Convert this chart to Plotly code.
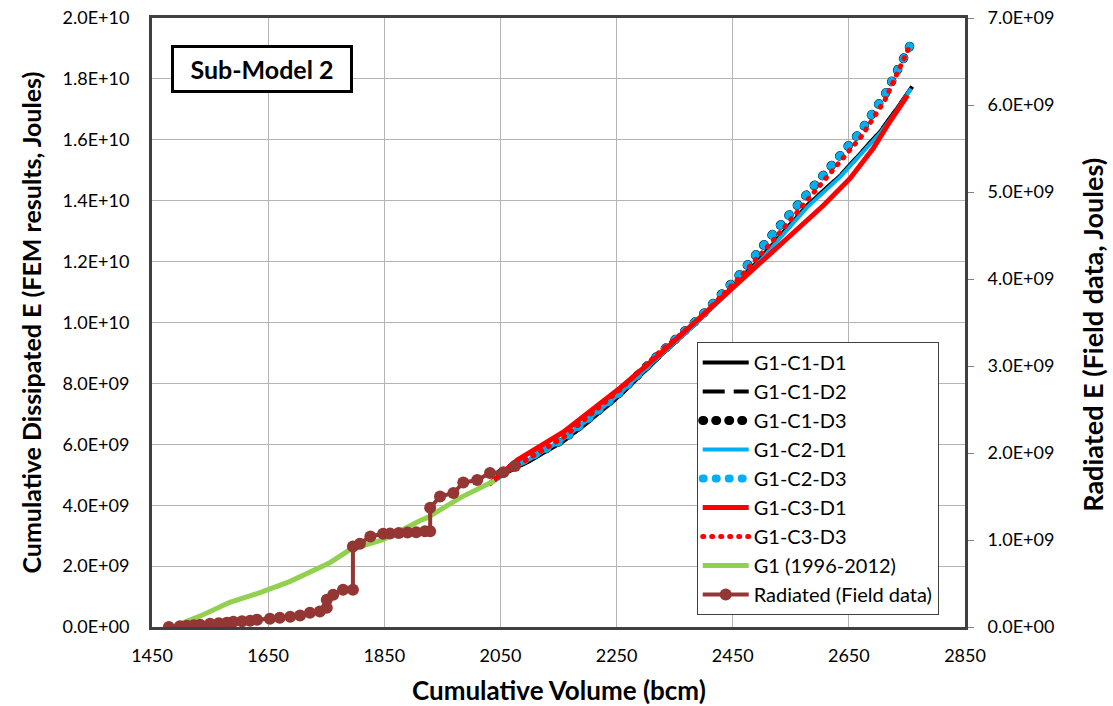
import plotly.graph_objects as go

# ---------------- data ----------------
# G1-C1-D1 / G1-C1-D2 (black)
c1_d1_x = [2040, 2058, 2100, 2158, 2200, 2256, 2325, 2382, 2451, 2497, 2527, 2578, 2635, 2670, 2704, 2733, 2759]
c1_d1_y = [4.82e9, 5.05e9, 5.45e9, 6.10e9, 6.72e9, 7.61e9, 8.90e9, 9.89e9, 11.20e9, 12.09e9, 12.75e9, 13.84e9, 14.82e9, 15.55e9, 16.27e9, 17.03e9, 17.75e9]
c1_d2_x = [2040, 2058, 2100, 2158, 2200, 2256, 2325, 2382, 2451, 2497, 2527, 2578, 2635, 2670, 2704, 2733, 2759]
c1_d2_y = [4.82e9, 5.05e9, 5.45e9, 6.10e9, 6.72e9, 7.61e9, 8.90e9, 9.89e9, 11.20e9, 12.09e9, 12.75e9, 13.84e9, 14.82e9, 15.55e9, 16.27e9, 17.03e9, 17.75e9]
# D3 (dotted) curves
c1_d3_x = [2050, 2158, 2256, 2325, 2394, 2428, 2463, 2515, 2570, 2618, 2670, 2713, 2761]
c1_d3_y = [5.05e9, 6.15e9, 7.70e9, 9.00e9, 10.18e9, 10.87e9, 11.60e9, 12.82e9, 14.05e9, 15.12e9, 16.27e9, 17.52e9, 19.30e9]
# G1-C2-D1 (blue)
c2_d1_x = [2040, 2058, 2100, 2158, 2200, 2256, 2325, 2382, 2451, 2497, 2527, 2578, 2635, 2670, 2704, 2733, 2757]
c2_d1_y = [4.80e9, 5.07e9, 5.50e9, 6.17e9, 6.80e9, 7.68e9, 8.92e9, 9.88e9, 11.15e9, 12.02e9, 12.68e9, 13.78e9, 14.78e9, 15.50e9, 16.22e9, 16.98e9, 17.68e9]
c2_d3_x = [2050, 2158, 2256, 2325, 2394, 2428, 2463, 2515, 2570, 2618, 2670, 2713, 2761]
c2_d3_y = [5.05e9, 6.15e9, 7.70e9, 9.00e9, 10.18e9, 10.87e9, 11.60e9, 12.82e9, 14.05e9, 15.12e9, 16.27e9, 17.52e9, 19.30e9]
# G1-C3 (red)
c3_d1_x = [2030, 2079, 2158, 2256, 2325, 2382, 2451, 2544, 2606, 2652, 2692, 2721, 2751]
c3_d1_y = [4.68e9, 5.48e9, 6.40e9, 7.85e9, 8.97e9, 9.95e9, 11.14e9, 12.75e9, 13.84e9, 14.73e9, 15.72e9, 16.61e9, 17.46e9]
c3_d3_x = [2040, 2158, 2256, 2325, 2394, 2428, 2463, 2520, 2575, 2622, 2672, 2712, 2752]
c3_d3_y = [4.85e9, 6.22e9, 7.80e9, 9.05e9, 10.15e9, 10.80e9, 11.50e9, 12.70e9, 13.92e9, 14.98e9, 16.12e9, 17.30e9, 18.97e9]
# G1 (1996-2012) (green)
g1_x = [1490, 1538, 1584, 1636, 1688, 1757, 1791, 1848, 1912, 1924, 1981, 2015, 2040]
g1_y = [0.04e9, 0.40e9, 0.81e9, 1.13e9, 1.50e9, 2.12e9, 2.54e9, 2.87e9, 3.50e9, 3.59e9, 4.25e9, 4.59e9, 4.80e9]
# Radiated (Field data) - right axis
rad_x = [1479, 1498, 1510, 1522, 1533, 1550, 1565, 1579, 1590, 1605, 1619, 1631, 1653, 1670, 1688, 1705,
         1722, 1739, 1751, 1751, 1762, 1779, 1796, 1796, 1808, 1826, 1848, 1860, 1875, 1890, 1905, 1920,
         1929, 1929, 1946, 1969, 1986, 2010, 2032, 2055, 2075]
rad_y = [0.0, 0.008e9, 0.015e9, 0.020e9, 0.026e9, 0.037e9, 0.043e9, 0.049e9, 0.061e9, 0.066e9, 0.072e9,
         0.084e9, 0.095e9, 0.107e9, 0.118e9, 0.133e9, 0.164e9, 0.179e9, 0.222e9, 0.314e9, 0.371e9, 0.429e9,
         0.429e9, 0.926e9, 0.957e9, 1.041e9, 1.072e9, 1.075e9, 1.08e9, 1.085e9, 1.09e9, 1.10e9, 1.10e9,
         1.37e9, 1.50e9, 1.54e9, 1.66e9, 1.69e9, 1.77e9, 1.78e9, 1.85e9]

x_ticks = [1450, 1650, 1850, 2050, 2250, 2450, 2650, 2850]
y_ticks = [0, 2e9, 4e9, 6e9, 8e9, 10e9, 12e9, 14e9, 16e9, 18e9, 20e9]
y_labels = ["0.0E+00", "2.0E+09", "4.0E+09", "6.0E+09", "8.0E+09", "1.0E+10", "1.2E+10", "1.4E+10", "1.6E+10", "1.8E+10", "2.0E+10"]
y2_ticks = [0, 1e9, 2e9, 3e9, 4e9, 5e9, 6e9, 7e9]
y2_labels = ["0.0E+00", "1.0E+09", "2.0E+09", "3.0E+09", "4.0E+09", "5.0E+09", "6.0E+09", "7.0E+09"]

FONT = "Lato"
fig = go.Figure()

fig.add_trace(go.Scatter(x=c1_d1_x, y=c1_d1_y, mode="lines", name="G1-C1-D1",
                         line=dict(color="black", width=4)))
fig.add_trace(go.Scatter(x=c1_d2_x, y=c1_d2_y, mode="lines", name="G1-C1-D2",
                         line=dict(color="black", width=4, dash="22px,9px")))
fig.add_trace(go.Scatter(x=c1_d3_x, y=c1_d3_y, mode="lines", name="G1-C1-D3",
                         line=dict(color="black", width=9, dash="1px,12px")))
fig.add_trace(go.Scatter(x=c2_d1_x, y=c2_d1_y, mode="lines", name="G1-C2-D1",
                         line=dict(color="#00b0f0", width=4)))
fig.add_trace(go.Scatter(x=c2_d3_x, y=c2_d3_y, mode="lines", name="G1-C2-D3",
                         line=dict(color="#00b0f0", width=8, dash="1px,12px")))
fig.add_trace(go.Scatter(x=c3_d1_x, y=c3_d1_y, mode="lines", name="G1-C3-D1",
                         line=dict(color="#ff0000", width=5)))
fig.add_trace(go.Scatter(x=c3_d3_x, y=c3_d3_y, mode="lines", name="G1-C3-D3",
                         line=dict(color="#ff0000", width=5, dash="1px,8px")))
fig.add_trace(go.Scatter(x=g1_x, y=g1_y, mode="lines", name="G1 (1996-2012)",
                         line=dict(color="#92d050", width=5)))
fig.add_trace(go.Scatter(x=rad_x, y=rad_y, mode="lines+markers", name="Radiated (Field data)",
                         yaxis="y2", line=dict(color="#943634", width=4),
                         marker=dict(color="#943634", size=12)))

fig.update_layout(
    width=1113, height=706, autosize=False,
    margin=dict(l=152, r=148, t=18, b=79),
    paper_bgcolor="white", plot_bgcolor="white",
    font=dict(family=FONT, size=18, color="black"),
    showlegend=True,
    legend=dict(x=0.670, y=0.468, xanchor="left", yanchor="top",
                bgcolor="white", bordercolor="#404040", borderwidth=1,
                font=dict(family=FONT, size=20, color="black"),
                tracegroupgap=0, itemwidth=46),
    xaxis=dict(range=[1450, 2850], tickvals=x_ticks, showgrid=True, gridcolor="#b4b4b4", gridwidth=1,
               showline=True, linecolor="#404040", linewidth=3, mirror=True, ticks="", zeroline=False,
               automargin=False, ticklabeloverflow="allow",
               tickfont=dict(family=FONT, size=18), ticklabelstandoff=10),
    yaxis=dict(range=[0, 2e10], tickvals=y_ticks, ticktext=y_labels, showgrid=True, gridcolor="#b4b4b4",
               gridwidth=1, showline=True, linecolor="#404040", linewidth=3, mirror=True, ticks="",
               zeroline=False, automargin=False, ticklabeloverflow="allow",
               tickfont=dict(family=FONT, size=18), ticklabelstandoff=16),
    yaxis2=dict(range=[0, 7e9], overlaying="y", side="right", tickvals=y2_ticks, ticktext=y2_labels,
                showgrid=False, zeroline=False, showline=True, linecolor="#404040", linewidth=3,
                automargin=False, ticklabeloverflow="allow",
                ticks="outside", ticklen=6, tickcolor="#808080", tickfont=dict(family=FONT, size=18),
                ticklabelstandoff=10),
    annotations=[
        dict(text="<b>Sub-Model 2</b>", xref="paper", yref="paper", x=0.1347, y=0.9155,
             xanchor="center", yanchor="middle", showarrow=False,
             font=dict(family=FONT, size=25, color="black"),
             bgcolor="white", bordercolor="black", borderwidth=3, borderpad=2,
             width=172, height=38),
        dict(text="<b>Cumulative Dissipated E (FEM results, Joules)</b>", xref="paper", yref="paper",
             x=-0.150, y=0.5, xanchor="center", yanchor="middle", textangle=-90, showarrow=False,
             font=dict(family=FONT, size=25, color="black")),
        dict(text="<b>Radiated E (Field data, Joules)</b>", xref="paper", yref="paper",
             x=1.1575, y=0.48, xanchor="center", yanchor="middle", textangle=-90, showarrow=False,
             font=dict(family=FONT, size=27, color="black")),
        dict(text="<b>Cumulative Volume (bcm)</b>", xref="paper", yref="paper",
             x=0.5, y=-0.1034, xanchor="center", yanchor="middle", showarrow=False,
             font=dict(family=FONT, size=26, color="black")),
    ],
)

post = """
(function(){
  document.documentElement.style.margin = '0';
  document.body.style.margin = '0';
  document.body.style.padding = '0';
  var gd = document.getElementById('{plot_id}');
  function roundCaps(){
    var paths = gd.querySelectorAll('path.js-line');
    paths.forEach(function(p){
      var d = p.style.strokeDasharray || '';
      if (d.indexOf('1px') === 0) { p.style.strokeLinecap = 'round'; }
    });
  }
  roundCaps();
  gd.on('plotly_afterplot', roundCaps);
})();
"""
fig.write_html("out.html", post_script=post, config={"displayModeBar": False})
